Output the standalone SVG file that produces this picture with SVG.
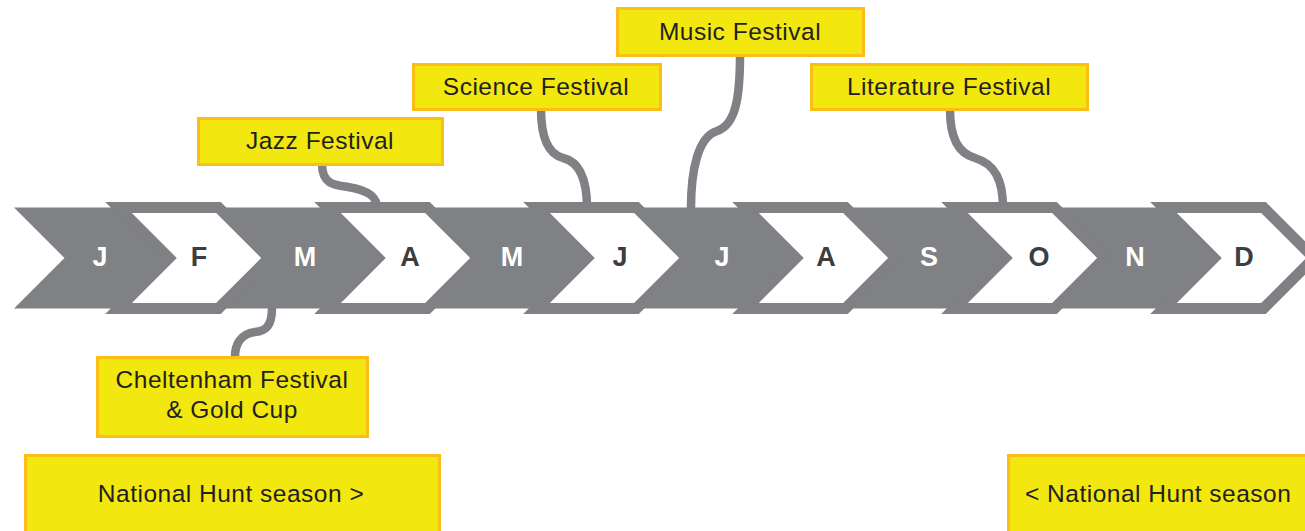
<svg xmlns="http://www.w3.org/2000/svg" xmlns:xlink="http://www.w3.org/1999/xlink" width="1305" height="531" viewBox="0 0 1305 531">
  <style>
    .grey { fill: #808184; }
    .hollow { fill: #ffffff; stroke: #808184; stroke-width: 11; stroke-linejoin: miter; stroke-miterlimit: 4; }
    .month { font-family: "Liberation Sans", Arial, sans-serif; font-weight: bold; font-size: 27px; text-anchor: middle; }
    .on-grey { fill: #ffffff; }
    .on-white { fill: #3d3d3f; }
    .box { fill: #f2e70f; stroke: #fbbd18; stroke-width: 3; }
    .label { font-family: "Liberation Sans", Arial, sans-serif; font-size: 24.5px; letter-spacing: 0.5px; fill: #231f20; text-anchor: middle; }
    .link { fill: none; stroke: #808184; stroke-width: 8.5; }
  </style>
  <defs>
    <!-- one month chevron, 45 degree notch and tip -->
    <polygon id="chev" points="0,207.5 100,207.5 150.5,258 100,308.5 0,308.5 50.5,258"/>
  </defs>

  <rect width="1305" height="531" fill="#ffffff"/>

  <!-- connectors between festival labels and months -->
  <g id="connectors">
    <path class="link" d="M322,164 C322,184 334,185 348,187 C367,190 377,196 377,208"/>
    <path class="link" d="M541,109 C541,138 548,154 563,158 C580,162 587,180 587,208"/>
    <path class="link" d="M740,55 C740,100 735,125 717,131 C698,137 691,170 691,208"/>
    <path class="link" d="M950,109 C950,138 958,153 975,158 C995,164 1003,180 1003,208"/>
    <path class="link" d="M272,308 C272,327 265,331 255,332 C240,334 235,345 235,357"/>
  </g>

  <!-- month band: solid grey chevrons first, outlined white chevrons on top -->
  <g id="months-grey">
    <use xlink:href="#chev" class="grey" x="14"/>
    <use xlink:href="#chev" class="grey" x="223"/>
    <use xlink:href="#chev" class="grey" x="432"/>
    <use xlink:href="#chev" class="grey" x="641"/>
    <use xlink:href="#chev" class="grey" x="850"/>
    <use xlink:href="#chev" class="grey" x="1059"/>
  </g>
  <g id="months-white">
    <use xlink:href="#chev" class="hollow" x="118.5"/>
    <use xlink:href="#chev" class="hollow" x="327.5"/>
    <use xlink:href="#chev" class="hollow" x="536.5"/>
    <use xlink:href="#chev" class="hollow" x="745.5"/>
    <use xlink:href="#chev" class="hollow" x="954.5"/>
    <use xlink:href="#chev" class="hollow" x="1163.5"/>
  </g>

  <g id="month-jan"><text class="month on-grey" x="100" y="266">J</text></g>
  <g id="month-feb"><text class="month on-white" x="199" y="266">F</text></g>
  <g id="month-mar"><text class="month on-grey" x="305" y="266">M</text></g>
  <g id="month-apr"><text class="month on-white" x="410" y="266">A</text></g>
  <g id="month-may"><text class="month on-grey" x="512" y="266">M</text></g>
  <g id="month-jun"><text class="month on-white" x="620" y="266">J</text></g>
  <g id="month-jul"><text class="month on-grey" x="722" y="266">J</text></g>
  <g id="month-aug"><text class="month on-white" x="826" y="266">A</text></g>
  <g id="month-sep"><text class="month on-grey" x="929" y="266">S</text></g>
  <g id="month-oct"><text class="month on-white" x="1039" y="266">O</text></g>
  <g id="month-nov"><text class="month on-grey" x="1135" y="266">N</text></g>
  <g id="month-dec"><text class="month on-white" x="1244" y="266">D</text></g>

  <!-- festival labels -->
  <g id="jazz">
    <rect class="box" x="198.5" y="118.5" width="244" height="46"/>
    <text class="label" x="320" y="149">Jazz Festival</text>
  </g>
  <g id="science">
    <rect class="box" x="413.5" y="64.5" width="247" height="45"/>
    <text class="label" x="536" y="95">Science Festival</text>
  </g>
  <g id="music">
    <rect class="box" x="617.5" y="8.5" width="246" height="47"/>
    <text class="label" x="740" y="40">Music Festival</text>
  </g>
  <g id="literature">
    <rect class="box" x="811.5" y="64.5" width="276" height="45"/>
    <text class="label" x="949" y="95">Literature Festival</text>
  </g>
  <g id="cheltenham">
    <rect class="box" x="97.5" y="357.5" width="270" height="79"/>
    <text class="label" x="232" y="388">Cheltenham Festival</text>
    <text class="label" x="232" y="418">&amp; Gold Cup</text>
  </g>

  <!-- season markers along the bottom -->
  <g id="season-start">
    <rect class="box" x="25.5" y="455.5" width="414" height="90"/>
    <text class="label" x="231" y="502">National Hunt season &gt;</text>
  </g>
  <g id="season-end">
    <rect class="box" x="1008.5" y="455.5" width="310" height="90"/>
    <text class="label" x="1025" y="502" style="text-anchor:start">&lt; National Hunt season</text>
  </g>
</svg>
